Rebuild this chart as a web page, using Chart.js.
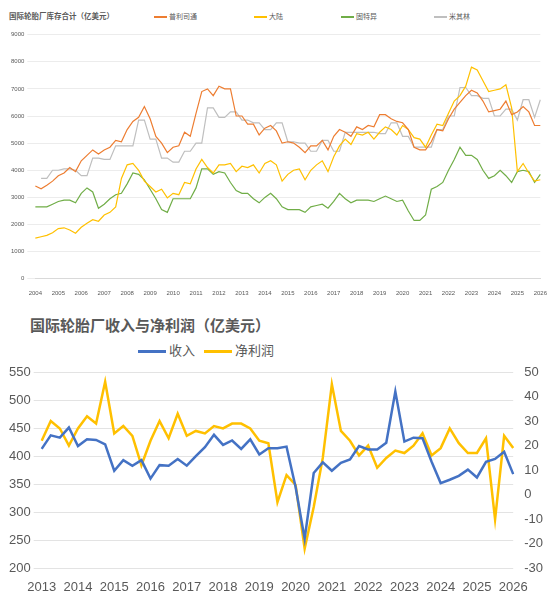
<!DOCTYPE html>
<html>
<head>
<meta charset="utf-8">
<script src="https://cdn.jsdelivr.net/npm/chart.js@4.4.0/dist/chart.umd.min.js"></script>
<style>
  body { margin: 0; background: #fff; font-family: "Noto Sans CJK SC", sans-serif; }
  #top { position: relative; width: 550px; height: 300px; }
  #top .head { position: absolute; top: 10px; left: 9px; right: 0; height: 14px; font-size: 7px; color: #595959; }
  #top .title { position: absolute; left: 0; top: 0; font-weight: bold; font-size: 7.5px; }
  #top .lg { position: absolute; top: 1px; }
  #top .lg i { display: inline-block; width: 13px; height: 1.5px; vertical-align: middle; margin-right: 2px; }
  #bottom { position: relative; width: 550px; height: 302px; }
  #bottom .title { position: absolute; left: 30px; top: 14px; font-size: 15px; font-weight: bold; color: #595959; }
  #bottom .lg { position: absolute; top: 40px; font-size: 13px; color: #595959; }
  #bottom .lg i { display: inline-block; width: 28px; height: 3px; vertical-align: middle; margin-right: 3px; }
</style>
</head>
<body>
<div id="top">
  <div class="head">
    <span class="title">国际轮胎厂库存合计（亿美元）</span>
    <span class="lg" style="left:145px"><i style="background:#ed7d31"></i>普利司通</span>
    <span class="lg" style="left:245px"><i style="background:#ffc000"></i>大陆</span>
    <span class="lg" style="left:332px"><i style="background:#70ad47"></i>固特异</span>
    <span class="lg" style="left:425px"><i style="background:#bfbfbf"></i>米其林</span>
  </div>
  <div style="position:absolute;left:0;top:28px;width:550px;height:272px"><canvas id="c1"></canvas></div>
</div>
<div id="bottom">
  <div class="title">国际轮胎厂收入与净利润（亿美元）</div>
  <span class="lg" style="left:138px"><i style="background:#4472c4"></i>收入</span>
  <span class="lg" style="left:204px"><i style="background:#ffc000"></i>净利润</span>
  <div style="position:absolute;left:0;top:58px;width:550px;height:244px"><canvas id="c2"></canvas></div>
</div>
<script>
// ===== top chart: inventory, quarterly 2004Q1..2026Q1 =====
const invLabels = [];
for (let y = 2004; y <= 2026; y++) for (let q = 0; q < 4; q++) if (y < 2026 || q === 0) invLabels.push(q === 0 ? String(y) : '');

const bridgestone = [3420,3320,3450,3600, 3800,3900,4100,3950, 4350,4550,4750,4600, 4750,4850,5100,5050,
  5500,5800,5950,6350, 5900,5250,5000,4650, 4850,4900,5400,5250, 6100,6900,7000,6750, 7100,7000,7000,6000,
  6000,5700,5700,5300, 5550,5650,5450,5000, 5050,5000,4850,4650, 4900,4900,5100,4750, 5250,5500,5400,5250,
  5600,5500,5650,5600, 6050,6050,5900,5800, 5750,5500,4850,4750, 4750,5050,5500,5450, 5900,6250,6500,6750,
  6950,6850,6550,6150, 6200,6250,6550,6050, 6150,6350,6150,5650, 5650];
const continental = [1500,1550,1600,1700, 1850,1880,1800,1680, 1900,2050,2180,2120, 2350,2450,2650,3700,
  4200,4250,4000,3600, 3400,3200,3300,2980, 3150,3100,3550,3500, 4050,4400,4100,3900, 4200,4200,4250,3950,
  4150,4100,4200,3900, 4250,4350,4200,3600, 3850,4000,4050,3650, 4000,4200,4350,3950, 4500,4900,5150,4950,
  5350,5300,5400,5150, 5400,5600,5500,5300, 5650,5500,5200,5150, 4850,5300,5700,5650, 6100,6550,6750,7100,
  7800,7700,7300,6900, 6950,7000,7150,6300, 3950,4250,3900,3600, 3650];
const goodyear = [2650,2650,2650,2750, 2850,2900,2900,2800, 3150,3350,3200,2600, 2750,2950,3100,3150,
  3500,3900,3850,3650, 3300,2950,2550,2450, 2950,2950,2950,2950, 3350,4050,4050,3850, 3950,3900,3550,3250,
  3150,3150,2950,2800, 3000,3150,2950,2650, 2550,2550,2550,2450, 2650,2700,2750,2600, 2850,3150,2950,2800,
  2900,2900,2900,2850, 2950,3050,2950,2850, 2900,2500,2150,2150, 2350,3300,3400,3550, 4000,4400,4850,4550,
  4550,4400,4000,3700, 3800,4000,3800,3550, 3950,4000,3950,3550, 3850];
const michelin = [null,3700,3700,4000, 4000,4050,4050,4000, 3800,3800,4450,4450, 4400,4400,4900,4900,
  4900,4900,5850,5850, 5150,5150,4450,4450, 4300,4300,4700,4700, 5000,5000,6300,6300, 5950,5950,6150,6150,
  5850,5850,5750,5750, 5500,5500,5750,5750, 5050,5050,5000,5000, 4700,4700,5100,5100, 4700,4700,5400,5400,
  5400,5400,5400,5400, 5350,5350,5750,5750, 5250,5250,4850,4850, 4850,4850,5500,5500, 6000,6000,7050,7050,
  6750,6750,6650,6650, 6000,6000,6250,6250, 5850,6600,6600,5950, 6600];

// ===== bottom chart: revenue & net profit, quarterly 2013Q1..2026Q1 =====
const finLabels = [];
for (let y = 2013; y <= 2026; y++) for (let q = 0; q < 4; q++) if (y < 2026 || q === 0) finLabels.push(q === 0 ? String(y) : '');

const revenue = [413,437,433,451, 418,430,429,421, 374,393,383,393, 360,384,383,395, 383,400,416,438,
  420,428,413,430, 403,414,414,417, 345,253,370,389, 374,388,394,418, 412,412,424,515,
  426,433,432,390, 352,358,365,376, 362,390,395,408, 368];
const netProfit = [22,30,27,20, 27,32,29,46, 25,28,24,12, 22,30,23,33, 24,26,25,28,
  27,29,29,27, 22,21,-3,8, 4,-22,-5,15, 45,26,22,16, 20,11,15,18,
  17,20,25,16, 19,27,21,17, 17,23,-10,24, 19];

function line(label, data, color, width, axis) {
  return { label, data, borderColor: color, backgroundColor: color, borderWidth: width,
    pointRadius: 0, tension: 0, fill: false, yAxisID: axis || 'y' };
}
const xTicks = (size, color) => ({
  autoSkip: false, maxRotation: 0, font: { size }, color,
  callback: function (v, i) { return i % 4 === 0 ? this.getLabelForValue(v) : null; }
});

new Chart(document.getElementById('c1'), {
  type: 'line',
  data: { labels: invLabels, datasets: [
    line('普利司通', bridgestone, '#ed7d31', 1.2),
    line('大陆', continental, '#ffc000', 1.2),
    line('固特异', goodyear, '#70ad47', 1.2),
    line('米其林', michelin, '#bfbfbf', 1.2)
  ] },
  options: {
    responsive: true, maintainAspectRatio: false, animation: false,
    layout: { padding: { left: 8, right: 6, top: 4 } },
    plugins: { legend: { display: false }, tooltip: { enabled: false } },
    scales: {
      x: { offset: false, grid: { display: false }, border: { color: '#d9d9d9' }, ticks: xTicks(6, '#595959') },
      y: { min: 0, max: 9000, ticks: { stepSize: 1000, font: { size: 6 }, color: '#595959', callback: v => String(v) },
           grid: { color: '#ececec' }, border: { display: false } }
    }
  }
});

new Chart(document.getElementById('c2'), {
  type: 'line',
  data: { labels: finLabels, datasets: [
    line('收入', revenue, '#4472c4', 2.5, 'y'),
    line('净利润', netProfit, '#ffc000', 2.5, 'y1')
  ] },
  options: {
    responsive: true, maintainAspectRatio: false, animation: false,
    layout: { padding: { left: 6, right: 4, bottom: 4, top: 14 } },
    plugins: { legend: { display: false }, tooltip: { enabled: false } },
    scales: {
      x: { offset: false, grid: { display: false }, border: { display: false }, ticks: xTicks(13, '#595959') },
      y: { min: 200, max: 550, ticks: { stepSize: 50, font: { size: 13 }, color: '#595959' },
           grid: { color: '#e3e3e3' }, border: { display: false } },
      y1: { position: 'right', min: -30, max: 50, ticks: { stepSize: 10, font: { size: 13 }, color: '#595959' },
            grid: { display: false }, border: { display: false } }
    }
  }
});
</script>
</body>
</html>
